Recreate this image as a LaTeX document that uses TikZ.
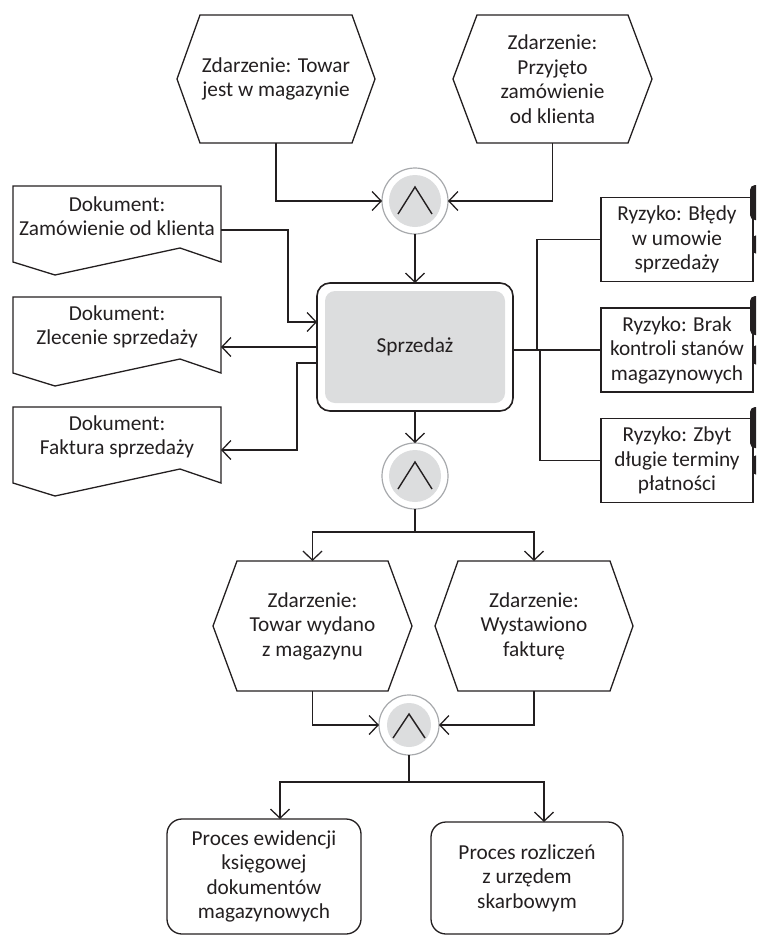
\documentclass[tikz,border=0pt]{standalone}
\usepackage{fontspec}
\setmainfont{Carlito}
\usetikzlibrary{arrows.meta,calc}
\definecolor{ink}{HTML}{231F20}
\definecolor{ringgray}{HTML}{A7A9AC}
\definecolor{fillgray}{HTML}{DCDDDE}
\newcommand\HexOutline[2]{\draw[line] (#1.west) -- ([xshift=#2]#1.north west) -- ([xshift=-#2]#1.north east) -- (#1.east) -- ([xshift=-#2]#1.south east) -- ([xshift=#2]#1.south west) -- cycle;}
\newcommand\DocOutline[1]{\draw[line] (#1.north west) -- (#1.north east) -- ([yshift=-16pt]#1.south east) -- ([xshift=-41pt,yshift=-2pt]#1.south east) -- ([xshift=42pt,yshift=-29pt]#1.south west) -- ([yshift=-16pt]#1.south west) -- cycle;}
\newcommand\GateInner[5]{\fill[fillgray] (#1.center) circle[radius=#2];
  \draw[draw=ink, line width=1.4pt] ([shift={(-#3,-#5)}]#1.center) -- ([shift={(0pt,#4)}]#1.center) -- ([shift={(#3,-#5)}]#1.center);}
\begin{document}
\begin{tikzpicture}[x=1pt,y=-1pt,
  every node/.style={font=\fontsize{21.3}{24.5}\selectfont, text=ink, align=center, inner sep=0pt, outer sep=0pt},
  line/.style={draw=ink, line width=1.3pt},
  arr/.style={line, -{Straight Barb[length=9pt,width=19pt]}},
  gate/.style={circle, draw=ringgray, line width=1.2pt, minimum size=#1},
  hexbox/.style={minimum width=#1, minimum height=128pt},
  riskbox/.style={draw=ink, line width=1.3pt, minimum width=152pt, minimum height=84pt},
  procbox/.style={draw=ink, line width=1.3pt, rounded corners=15pt},
  docbox/.style={minimum width=208pt, minimum height=60pt}]
\useasboundingbox (0,0) rectangle (756,937);

% top events
\node[hexbox=198pt] (hexA) at (276,79) {Zdarzenie: Towar\\jest w magazynie};
\HexOutline{hexA}{23pt}
\node[hexbox=199pt] (hexB) at (552.5,79) {Zdarzenie:\\Przyjęto\\zamówienie\\od klienta};
\HexOutline{hexB}{24pt}

% gates
\node[gate=66pt] (A1) at (415,201) {};
\GateInner{A1}{26pt}{17pt}{14pt}{13pt}
\node[gate=66pt] (A2) at (415,476) {};
\GateInner{A2}{26pt}{17pt}{14pt}{13pt}
\node[gate=60pt] (A3) at (409,725) {};
\GateInner{A3}{22pt}{16pt}{11pt}{13pt}

% main function
\node[draw=ink, line width=1.6pt, rounded corners=13pt, minimum width=196pt, minimum height=128pt,
  path picture={\fill[fillgray, rounded corners=10pt] ([xshift=8pt,yshift=-8pt]path picture bounding box.north west) rectangle ([xshift=-8pt,yshift=8pt]path picture bounding box.south east);}]
  (S) at (415,347) {Sprzedaż};

% documents
\node[docbox] (D1) at (117,216) {Dokument:\\Zamówienie od klienta};
\DocOutline{D1}
\node[docbox] (D2) at (117,327) {Dokument:\\Zlecenie sprzedaży};
\DocOutline{D2}
\node[docbox] (D3) at (117,437) {Dokument:\\Faktura sprzedaży};
\DocOutline{D3}

% risks
\node[riskbox] (R1) at (677,239.5) {Ryzyko: Błędy\\w umowie\\sprzedaży};
\node[riskbox] (R2) at (677,350) {Ryzyko: Brak\\kontroli stanów\\magazynowych};
\node[riskbox] (R3) at (677,460.5) {Ryzyko: Zbyt\\długie terminy\\płatności};
\begin{scope}
\clip (0,0) rectangle (756,937);
\fill[ink, rounded corners=5pt] (750,185) rectangle (775,220);
\fill[ink, rounded corners=5pt] (752,235) rectangle (775,254);
\fill[ink, rounded corners=5pt] (750,296) rectangle (775,335);
\fill[ink, rounded corners=5pt] (752,345) rectangle (775,365);
\fill[ink, rounded corners=5pt] (750,407) rectangle (775,448);
\fill[ink, rounded corners=5pt] (752,455) rectangle (775,475);
\end{scope}

% bottom events
\node[hexbox=199pt, minimum height=130pt] (hexC) at (312.5,626) {Zdarzenie:\\Towar wydano\\z magazynu};
\HexOutline{hexC}{24pt}
\node[hexbox=198pt, minimum height=130pt] (hexD) at (534,626) {Zdarzenie:\\Wystawiono\\fakturę};
\HexOutline{hexD}{23pt}

% processes
\node[procbox, minimum width=194pt, minimum height=115pt] (P1) at (264,876.5) {Proces ewidencji\\księgowej\\dokumentów\\magazynowych};
\node[procbox, minimum width=192pt, minimum height=112pt] (P2) at (527,878) {Proces rozliczeń\\z urzędem\\skarbowym};

% connectors
\draw[arr] (hexA.south) |- (A1.west);
\draw[arr] (hexB.south) |- (A1.east);
\draw[arr] (A1.south) -- (A1.south |- S.north);
\draw[arr] (S.south) -- (S.south -| A2.north) -- (A2.north);
\draw[arr] (A2.south) -- ++(0,23) -| (hexC.north);
\draw[arr] (A2.south) -- ++(0,23) -| (hexD.north);
\draw[arr] (hexC.south) |- (A3.west);
\draw[arr] (hexD.south) |- (A3.east);
\draw[arr] (A3.south) -- ++(0,27) -| ([xshift=16pt]P1.north);
\draw[arr] (A3.south) -- ++(0,27) -| ([xshift=17pt]P2.north);

\draw[arr] ([yshift=-14pt]D1.east) -- ++(67,0) |- ([yshift=25pt]S.west);
\draw[arr] (S.west) -- (S.west -| D2.east);
\draw[arr] ([yshift=-16pt]S.west) -- ++(-20,0) |- ([yshift=-13pt]D3.east);

\draw[line] (S.east |- R2.west) -- ++(24,0) |- (R1.west);
\draw[line] (S.east |- R2.west) -- (R2.west);
\draw[line] (S.east |- R2.west) -- ++(27,0) |- (R3.west);
\end{tikzpicture}
\end{document}
